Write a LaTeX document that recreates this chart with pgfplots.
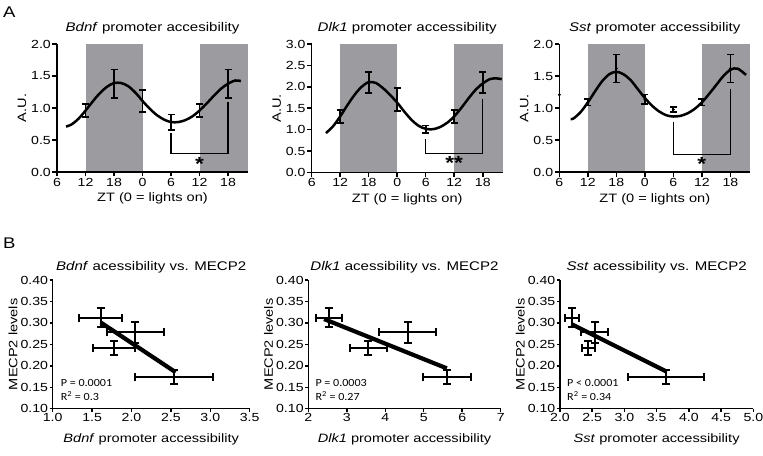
\documentclass[border=0pt]{standalone}
\usepackage{pgfplots}
\pgfplotsset{compat=1.18}
\usepackage{fontspec}
\setmainfont{Liberation Sans}[FakeStretch=1.2]
\newfontfamily\pfont{Carlito}[FakeStretch=1.1]
\definecolor{shade}{RGB}{156,155,160}

\tikzset{
  sigstar/.style={font=\fontsize{19}{19}\selectfont\bfseries, inner sep=0pt, anchor=base},
  pval/.style={anchor=base west, inner sep=0pt, font=\pfont\fontsize{11}{12}\selectfont},
}

\pgfplotsset{
  prism/.style={
    scale only axis,
    axis on top,
    axis x line*=bottom, axis y line*=left,
    axis line style={line width=1.5bp, -},
    every tick/.style={black, line width=1.5bp},
    tick align=outside,
    major tick length=4.5bp,
    /pgf/number format/assume math mode=true,
    tick label style={font=\fontsize{11.8}{13}\selectfont},
    label style={font=\fontsize{12.2}{13}\selectfont},
    title style={font=\fontsize{12.6}{14}\selectfont},
    xticklabel style={inner sep=1.5bp},
    yticklabel style={inner sep=1.5bp},
    clip=false,
  },
  panelA/.style={
    prism,
    width=191bp, height=128bp,
    xmin=0, xmax=40.2, ymin=0,
    xtick={0,6,12,18,24,30,36},
    xticklabels={6,12,18,0,6,12,18},
    yticklabel style={/pgf/number format/.cd, fixed, fixed zerofill, precision=1},
    xlabel={ZT (0 = lights on)},
    ylabel={A.U.},
    xlabel style={at={(axis description cs:0.5,0)}, anchor=base, yshift=-30bp},
    ylabel style={at={([xshift=-35bp]axis description cs:0,0.5)}, anchor=center},
    title style={at={([yshift=7bp]axis description cs:0.5,1)}, anchor=base},
  },
  panelB/.style={
    prism,
    width=193bp, height=128.7bp,
    ymin=0.10, ymax=0.40, ytick={0.10,0.15,...,0.41},
    yticklabel style={/pgf/number format/.cd, fixed, fixed zerofill, precision=2},
    major tick length=3bp,
    ylabel={MECP2 levels},
    xlabel style={at={(axis description cs:0.5,0)}, anchor=base, yshift=-34bp},
    ylabel style={at={([xshift=-39.7bp]axis description cs:0,0.5)}, anchor=center},
    title style={at={([yshift=4bp]axis description cs:0.5,1)}, anchor=base},
  },
  ebA/.style={
    draw=none, mark=none,
    error bars/.cd, y dir=both, y explicit,
    error bar style={draw=black, solid, line width=1.7bp},
    error mark options={draw=black, solid, line width=1.7bp, mark size=3.5bp, rotate=90},
  },
  ebB/.style={
    draw=none, mark=none,
    error bars/.cd, y dir=both, y explicit, x dir=both, x explicit,
    error bar style={draw=black, solid, line width=2bp},
    error mark options={draw=black, solid, line width=2bp, mark size=4bp, rotate=90},
  },
  curve/.style={black, line width=2.5bp, smooth, mark=none},
  brk/.style={black, line width=1.2bp, mark=none},
  reg/.style={black, line width=4.2bp, mark=none},
}

\begin{document}
\begin{tikzpicture}
\useasboundingbox (0,0) rectangle (763bp,456bp);

\node[anchor=base west, inner sep=0pt, font=\fontsize{15.5}{15.5}\selectfont] at (3bp,438bp) {A};
\node[anchor=base west, inner sep=0pt, font=\fontsize{15.5}{15.5}\selectfont] at (3bp,207.7bp) {B};

% ---------- A1 Bdnf ----------
\begin{axis}[panelA, at={(57bp,284bp)}, anchor=south west,
  ymax=2.0, ytick={0,0.5,1.0,1.5,2.0},
  title={\textit{Bdnf} promoter accesibility}]
\addplot[fill=shade, draw=none] coordinates {(6,0) (6,2) (18,2) (18,0)};
\addplot[fill=shade, draw=none] coordinates {(30,0) (30,2) (40.2,2) (40.2,0)};
\addplot[curve] coordinates {(1.9,0.71)(3,0.74)(4.5,0.83)(6,0.96)(7.5,1.10)(9,1.23)(10.5,1.33)(12,1.39)(13.5,1.39)(15,1.34)(16.5,1.24)(18,1.11)(19.5,0.99)(21,0.89)(22.5,0.82)(24,0.78)(25.5,0.78)(27,0.81)(28.5,0.87)(30,0.96)(31.5,1.07)(33,1.19)(34.5,1.30)(36,1.38)(37.5,1.43)(38.7,1.42)};
\addplot[ebA] coordinates {(6,0.96) +- (0,0.10) (12,1.38) +- (0,0.22) (18,1.11) +- (0,0.17) (24,0.78) +- (0,0.12) (30,0.96) +- (0,0.10) (36,1.38) +- (0,0.22)};
\addplot[brk] coordinates {(24,0.61) (24,0.29) (36,0.29) (36,1.09)};
\node[sigstar] at (axis cs:30,0.02) {*};
\end{axis}

% ---------- A2 Dlk1 ----------
\begin{axis}[panelA, at={(311.7bp,283.5bp)}, anchor=south west,
  height=128.5bp,
  ymax=3.0, ytick={0,0.5,1.0,1.5,2.0,2.5,3.0},
  title={\textit{Dlk1} promoter accessibility}]
\addplot[fill=shade, draw=none] coordinates {(6,0) (6,3) (18,3) (18,0)};
\addplot[fill=shade, draw=none] coordinates {(30,0) (30,3) (40.2,3) (40.2,0)};
\addplot[curve] coordinates {(3,0.92)(4.5,1.08)(6,1.31)(7.5,1.57)(9,1.81)(10.5,2.0)(12,2.11)(13.5,2.09)(15,1.97)(16.5,1.81)(18,1.63)(19.5,1.42)(21,1.23)(22.5,1.09)(24,1.02)(25.5,1.01)(27,1.06)(28.5,1.16)(30,1.31)(31.5,1.51)(33,1.73)(34.5,1.93)(36,2.08)(37.5,2.18)(38.5,2.20)(40,2.18)};
\addplot[ebA] coordinates {(6,1.31) +- (0,0.15) (12,2.10) +- (0,0.24) (18,1.70) +- (0,0.27) (24,1.01) +- (0,0.085) (30,1.31) +- (0,0.15) (36,2.10) +- (0,0.24)};
\addplot[brk] coordinates {(24,0.78) (24,0.44) (36,0.44) (36,1.71)};
\node[sigstar] at (axis cs:30,0.06) {**};
\end{axis}

% ---------- A3 Sst ----------
\begin{axis}[panelA, at={(559.3bp,283.8bp)}, anchor=south west,
  ymax=2.0, ytick={0,0.5,1.0,1.5,2.0},
  title={\textit{Sst} promoter accessibility}]
\addplot[fill=shade, draw=none] coordinates {(6,0) (6,2) (18,2) (18,0)};
\addplot[fill=shade, draw=none] coordinates {(30,0) (30,2) (40.2,2) (40.2,0)};
\addplot[curve] coordinates {(2.4,0.83)(3,0.84)(4.5,0.94)(6,1.09)(7.5,1.26)(9,1.42)(10.5,1.53)(12,1.57)(13.5,1.53)(15,1.44)(16.5,1.30)(18,1.16)(19.5,1.04)(21,0.95)(22.5,0.89)(24,0.87)(25.5,0.88)(27,0.92)(28.5,0.99)(30,1.09)(31.5,1.22)(33,1.36)(34.5,1.50)(36,1.60)(37.5,1.62)(39.3,1.52)};
\addplot[ebA] coordinates {(6,1.09) +- (0,0.05) (12,1.62) +- (0,0.22) (18,1.14) +- (0,0.075) (24,0.98) +- (0,0.035) (30,1.09) +- (0,0.05) (36,1.62) +- (0,0.22)};
\addplot[only marks, mark=*, mark size=1.2bp, black] coordinates {(6,1.09) (12,1.62) (18,1.14) (24,0.98) (30,1.09) (36,1.62) (0,1.21)};
\addplot[brk] coordinates {(24,0.79) (24,0.28) (36,0.28) (36,1.30)};
\node[sigstar] at (axis cs:30,0.02) {*};
\end{axis}

% ---------- B1 Bdnf ----------
\begin{axis}[panelB, at={(52.7bp,47.3bp)}, anchor=south west,
  width=197bp,
  xmin=1.0, xmax=3.5, xtick={1.0,1.5,...,3.6},
  xticklabel style={/pgf/number format/.cd, fixed, fixed zerofill, precision=1},
  title={\textit{Bdnf} acessibility vs. MECP2},
  xlabel={\textit{Bdnf} promoter accessibility}]
\addplot[ebB] coordinates {(1.61,0.312) +- (0.27,0.022) (2.05,0.278) +- (0.36,0.024) (1.78,0.241) +- (0.265,0.016) (2.54,0.174) +- (0.49,0.016)};
\addplot[reg] coordinates {(1.61,0.301) (2.56,0.185)};
\node[pval, xshift=8bp, yshift=22bp] at (axis description cs:0,0) {P = 0.0001};
\node[pval, xshift=8bp, yshift=8.7bp] at (axis description cs:0,0) {R\textsuperscript{2} = 0.3};
\end{axis}

% ---------- B2 Dlk1 ----------
\begin{axis}[panelB, at={(308.3bp,47.3bp)}, anchor=south west,
  width=192.4bp,
  xmin=2, xmax=7, xtick={2,3,4,5,6,7},
  title={\textit{Dlk1} acessibility vs. MECP2},
  xlabel={\textit{Dlk1} promoter accessibility}]
\addplot[ebB] coordinates {(2.53,0.312) +- (0.34,0.022) (4.58,0.278) +- (0.73,0.024) (3.56,0.241) +- (0.48,0.016) (5.60,0.174) +- (0.62,0.016)};
\addplot[reg] coordinates {(2.41,0.309) (5.60,0.194)};
\node[pval, xshift=7bp, yshift=22bp] at (axis description cs:0,0) {P = 0.0003};
\node[pval, xshift=7bp, yshift=8.7bp] at (axis description cs:0,0) {R\textsuperscript{2} = 0.27};
\end{axis}

% ---------- B3 Sst ----------
\begin{axis}[panelB, at={(560bp,47.3bp)}, anchor=south west,
  width=193.3bp,
  xmin=2.0, xmax=5.0, xtick={2.0,2.5,...,5.1},
  xticklabel style={/pgf/number format/.cd, fixed, fixed zerofill, precision=1},
  title={\textit{Sst} acessibility vs. MECP2},
  xlabel={\textit{Sst} promoter accessibility}]
\addplot[ebB] coordinates {(2.19,0.312) +- (0.11,0.022) (2.54,0.278) +- (0.21,0.024) (2.44,0.241) +- (0.105,0.016) (3.645,0.174) +- (0.585,0.016)};
\addplot[reg] coordinates {(2.18,0.297) (3.66,0.186)};
\node[pval, xshift=7bp, yshift=22bp] at (axis description cs:0,0) {P < 0.0001};
\node[pval, xshift=7bp, yshift=8.7bp] at (axis description cs:0,0) {R\textsuperscript{2} = 0.34};
\end{axis}
\end{tikzpicture}
\end{document}
